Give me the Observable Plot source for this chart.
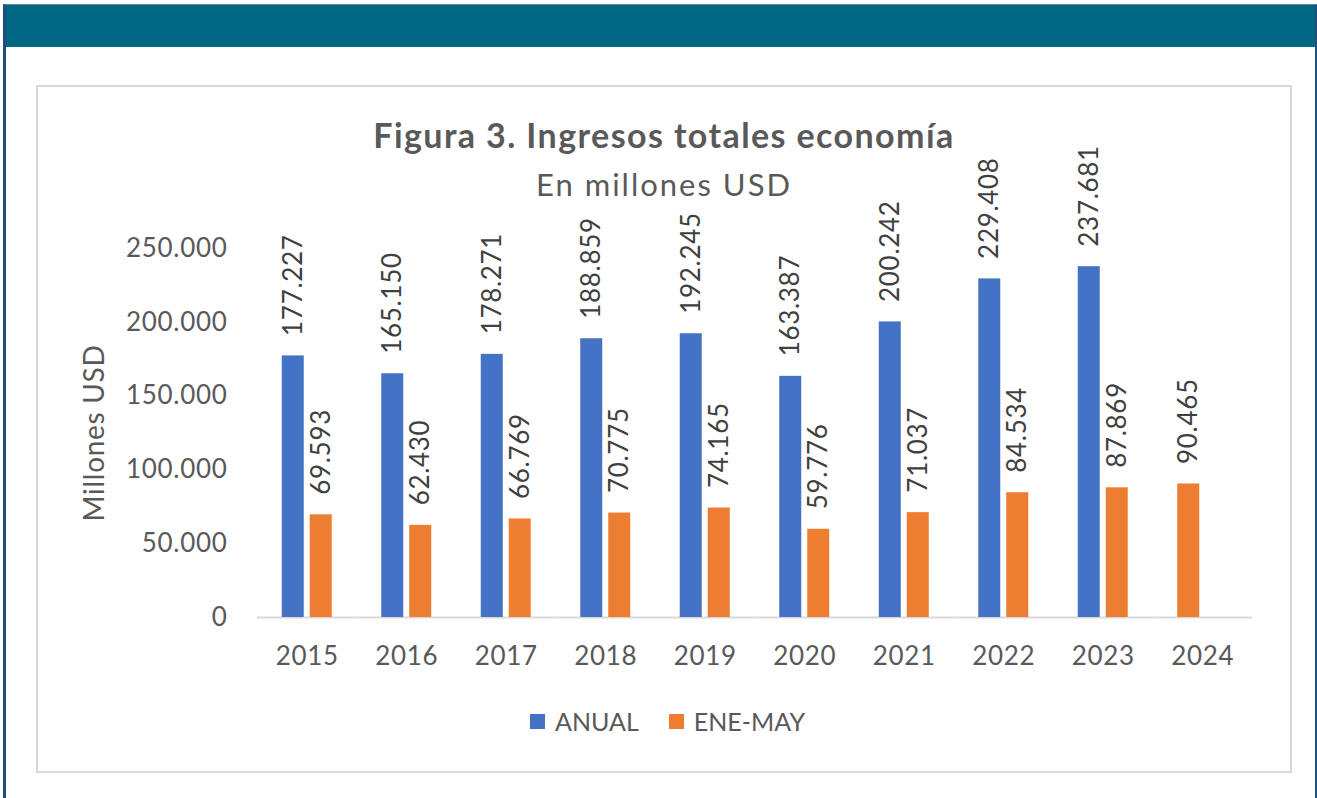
<!DOCTYPE html>
<html>
<head>
<meta charset="utf-8">
<script src="https://cdn.jsdelivr.net/npm/d3@7"></script>
<script src="https://cdn.jsdelivr.net/npm/@observablehq/plot@0.6"></script>
<style>
  html, body { margin: 0; padding: 0; }
  body { width: 1317px; height: 798px; position: relative; background: #fff; overflow: hidden; font-family: Lato, "Open Sans", sans-serif; color: #595959; }
  #frame { position: absolute; left: 3px; top: 4px; width: 1309px; height: 820px; border-left: 3px solid #1f4e79; border-right: 3px solid #1f4e79; border-top: 1px solid #6a86a6; }
  #header { position: absolute; left: 6px; top: 5px; width: 1309px; height: 42px; background: #006782; }
  #box { position: absolute; left: 36px; top: 85px; width: 1256px; height: 688px; box-sizing: border-box; border: 2px solid #d9d9d9; }
  #title { position: absolute; left: 36px; width: 1256px; top: 114px; text-align: center; font-size: 34px; line-height: 41px; font-weight: 700; letter-spacing: 1.4px; color: #595959; white-space: nowrap; }
  #subtitle { position: absolute; left: 36px; width: 1256px; top: 166px; text-align: center; font-size: 31px; line-height: 37px; letter-spacing: 2px; color: #595959; white-space: nowrap; }
  #chart { position: absolute; left: 40px; top: 140px; }
  #chart svg text { letter-spacing: 0.7px; }
  #legend { position: absolute; left: 530px; top: 706px; display: flex; align-items: center; font-size: 25px; line-height: 30px; color: #595959; }
  #legend .item { display: flex; align-items: center; margin-right: 30px; }
  #legend .sw { width: 15px; height: 15px; margin-right: 10px; }
</style>
</head>
<body>
<div id="frame"></div>
<div id="header"></div>
<div id="box"></div>
<div id="title">Figura 3. Ingresos totales economía</div>
<div id="subtitle">En millones USD</div>
<div id="chart"></div>
<div id="legend"></div>
<script>
const years = ["2015", "2016", "2017", "2018", "2019", "2020", "2021", "2022", "2023", "2024"];
const seriesNames = ["ANUAL", "ENE-MAY"];
const anual = [177227, 165150, 178271, 188859, 192245, 163387, 200242, 229408, 237681, null];
const eneMay = [69593, 62430, 66769, 70775, 74165, 59776, 71037, 84534, 87869, 90465];
const seriesColors = ["#4472C4", "#ED7D31"];
const yTicks = [0, 50000, 100000, 150000, 200000, 250000];
const yAxisTitle = "Millones USD";

const fmt = d => d3.format(",")(d).replace(/,/g, ".");

const rows = [];
years.forEach((year, i) => {
  const present = [];
  if (anual[i] != null) present.push({year, series: seriesNames[0], value: anual[i]});
  if (eneMay[i] != null) present.push({year, series: seriesNames[1], value: eneMay[i]});
  present.forEach((r, k) => rows.push({...r, slot: k}));
});

const textColor = "#595959";

const chart = Plot.plot({
  width: 1240,
  height: 550,
  marginLeft: 217,
  marginRight: 28,
  marginTop: 108,
  marginBottom: 73,
  style: { fontFamily: "Lato, 'Open Sans', sans-serif", fontSize: "26px", color: textColor, background: "transparent" },
  fx: { domain: years, padding: 0, round: false, tickSize: 0, tickPadding: 29, label: null },
  x: { domain: [0, 1], axis: null, round: false, paddingInner: 0.214, paddingOuter: 0.884 },
  y: { domain: [0, 250000], ticks: yTicks, tickFormat: fmt, tickSize: 0, tickPadding: 30, label: null, grid: false },
  color: { domain: seriesNames, range: seriesColors },
  marks: [
    Plot.ruleY([0], { stroke: "#d9d9d9", strokeWidth: 2 }),
    Plot.barY(rows, { fx: "year", x: "slot", y: "value", fill: "series", insetLeft: 0, insetRight: 0 }),
    Plot.text(rows, {
      fx: "year", x: "slot", y: "value",
      text: d => fmt(d.value),
      rotate: -90, textAnchor: "start", lineAnchor: "middle",
      dy: -20, fill: "#404040", fontSize: 26
    }),
    Plot.text([{year: years[0]}], {
      fx: "year", text: () => yAxisTitle, frameAnchor: "left",
      rotate: -90, textAnchor: "middle", lineAnchor: "middle",
      dx: -162, fill: textColor, fontSize: 28
    })
  ]
});
document.getElementById("chart").appendChild(chart);

const legend = document.getElementById("legend");
seriesNames.forEach((name, i) => {
  const item = document.createElement("div");
  item.className = "item";
  const sw = document.createElement("span");
  sw.className = "sw";
  sw.style.background = seriesColors[i];
  const lab = document.createElement("span");
  lab.textContent = name;
  item.appendChild(sw);
  item.appendChild(lab);
  legend.appendChild(item);
});
</script>
</body>
</html>
